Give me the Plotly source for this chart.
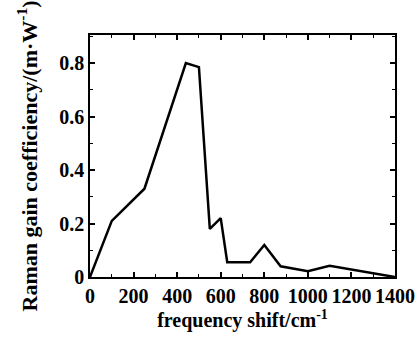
import plotly.graph_objects as go

freq = [0, 100, 250, 440, 500, 550, 600, 630, 735, 800, 875, 1000, 1100, 1400]
gain = [0, 0.21, 0.33, 0.80, 0.785, 0.18, 0.22, 0.055, 0.055, 0.12, 0.04, 0.022, 0.042, 0]

x_ticks = [0, 200, 400, 600, 800, 1000, 1200, 1400]
y_ticks = [0, 0.2, 0.4, 0.6, 0.8]
y_tick_text = ["0", "0.2", "0.4", "0.6", "0.8"]

font_family = "Liberation Serif"

fig = go.Figure()
fig.add_trace(go.Scatter(x=freq, y=gain, mode="lines",
                         line=dict(color="black", width=2.5), showlegend=False))

axis_common = dict(
    showgrid=False, zeroline=False, showline=True, linecolor="black", linewidth=1.5,
    mirror="ticks", ticks="inside", ticklen=5, tickwidth=1.5, tickcolor="black",
    tickfont=dict(family=font_family, size=20, color="black", weight="bold"),
)

fig.update_xaxes(
    **axis_common, range=[0, 1400], tickvals=x_ticks,
    minor=dict(ticks="inside", dtick=100, ticklen=3, tickcolor="black", tickwidth=1),
    title=dict(text="frequency shift/cm<sup>-1</sup>",
               font=dict(family=font_family, size=20, color="black", weight="bold"), standoff=4),
)
fig.update_yaxes(
    **axis_common, range=[0, 0.905], tickvals=y_ticks, ticktext=y_tick_text,
    minor=dict(ticks="inside", dtick=0.1, ticklen=3, tickcolor="black", tickwidth=1),
    title=dict(text="Raman gain coefficiency/(m·W<sup>-1</sup>)",
               font=dict(family=font_family, size=22, color="black", weight="bold"), standoff=16),
)

fig.update_layout(
    width=418, height=338,
    margin=dict(l=90, r=23, t=35, b=61, autoexpand=False),
    plot_bgcolor="white", paper_bgcolor="white",
)

fig.write_html("out.html")
